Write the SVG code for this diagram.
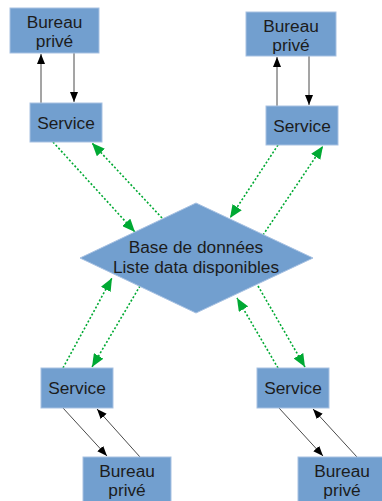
<svg xmlns="http://www.w3.org/2000/svg" width="382" height="501" viewBox="0 0 382 501">
<style>
.box{fill:#729fcf;stroke:#a7c1e2;stroke-width:1}
.t{font-family:"Liberation Sans",Arial,sans-serif;font-size:17.3px;fill:#1c1c1c;text-anchor:middle}
.k{stroke:#4a4a4a;stroke-width:1;fill:none}
.g{stroke:#00a933;stroke-width:1.6;stroke-dasharray:2 2;fill:none}
</style>
<defs>
<marker id="ab" markerUnits="userSpaceOnUse" markerWidth="10" markerHeight="10" viewBox="0 0 10 8" refX="10" refY="4" orient="auto">
<path d="M0,0 L10,4 L0,8 Z" fill="#000"/>
</marker>
<marker id="ag" markerUnits="userSpaceOnUse" markerWidth="13" markerHeight="11" viewBox="0 0 13 11" refX="13" refY="5.5" orient="auto">
<path d="M0,0 L13,5.5 L0,11 Z" fill="#00a933"/>
</marker>
</defs>
<g id="connectors">
<line class="k" x1="41" y1="103" x2="41" y2="54" marker-end="url(#ab)"/>
<line class="k" x1="74" y1="53" x2="74" y2="102" marker-end="url(#ab)"/>
<line class="k" x1="277" y1="106" x2="277" y2="57" marker-end="url(#ab)"/>
<line class="k" x1="309" y1="56" x2="309" y2="105" marker-end="url(#ab)"/>
<line class="k" x1="63" y1="408" x2="107" y2="456" marker-end="url(#ab)"/>
<line class="k" x1="140" y1="457" x2="97" y2="409" marker-end="url(#ab)"/>
<line class="k" x1="279" y1="408" x2="323" y2="456" marker-end="url(#ab)"/>
<line class="k" x1="357" y1="457" x2="313" y2="409" marker-end="url(#ab)"/>
<line class="g" x1="53" y1="142" x2="135" y2="232" marker-end="url(#ag)"/>
<line class="g" x1="162" y1="218" x2="92" y2="143" marker-end="url(#ag)"/>
<line class="g" x1="278" y1="145" x2="230" y2="218" marker-end="url(#ag)"/>
<line class="g" x1="263" y1="235" x2="323" y2="146" marker-end="url(#ag)"/>
<line class="g" x1="63" y1="368" x2="112" y2="278" marker-end="url(#ag)"/>
<line class="g" x1="140" y1="286" x2="92" y2="367" marker-end="url(#ag)"/>
<line class="g" x1="278" y1="368" x2="237" y2="298" marker-end="url(#ag)"/>
<line class="g" x1="258" y1="286" x2="305" y2="367" marker-end="url(#ag)"/>
</g>
<g id="bureau1"><rect class="box" x="10" y="8" width="89" height="45"/><text class="t" x="54.5" y="28">Bureau</text><text class="t" x="54.5" y="47">privé</text></g>
<g id="service1"><rect class="box" x="30" y="103" width="72" height="39"/><text class="t" x="66" y="128.5">Service</text></g>
<g id="bureau2"><rect class="box" x="246" y="12" width="90" height="44"/><text class="t" x="291" y="32">Bureau</text><text class="t" x="291" y="51">privé</text></g>
<g id="service2"><rect class="box" x="266" y="106" width="72" height="39"/><text class="t" x="302" y="131.5">Service</text></g>
<g id="database"><polygon class="box" points="80,258 196,203 313,258 196,313"/><text class="t" x="196" y="253">Base de données</text><text class="t" x="196" y="273">Liste data disponibles</text></g>
<g id="service3"><rect class="box" x="41" y="368" width="72" height="40"/><text class="t" x="77" y="394">Service</text></g>
<g id="bureau3"><rect class="box" x="83" y="457" width="88" height="45"/><text class="t" x="127" y="477">Bureau</text><text class="t" x="127" y="496">privé</text></g>
<g id="service4"><rect class="box" x="257" y="368" width="72" height="40"/><text class="t" x="293" y="394">Service</text></g>
<g id="bureau4"><rect class="box" x="298" y="457" width="88" height="45"/><text class="t" x="342" y="477">Bureau</text><text class="t" x="342" y="496">privé</text></g>
</svg>
